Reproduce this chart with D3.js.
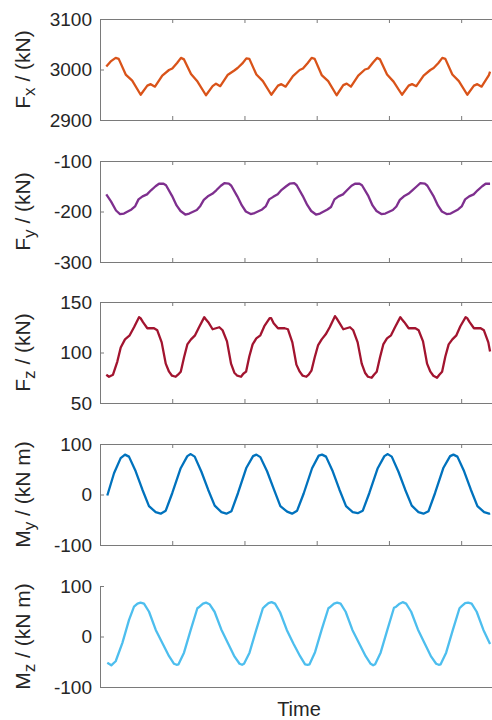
<!DOCTYPE html>
<html>
<head>
<meta charset="utf-8">
<script src="https://cdn.jsdelivr.net/npm/d3@7"></script>
<style>
  body { margin: 0; background: #fff; }
  svg text { font-family: "Liberation Sans", Arial, Helvetica, sans-serif; }
</style>
</head>
<body>
<div id="wrapper"></div>
<script>
// 1. Data (time in s)
const timeTicks = [10, 20, 30, 40, 50]

const fxTicks = [2900, 3000, 3100]
const fxTime = [0.87, 1.48,
  2.17, 2.59, 3.56, 4.46, 5.63, 6.55, 7.02, 7.61, 8.62, 9.55, 10.01, 10.67,
  11.21, 11.63, 12.60, 13.50, 14.67, 15.59, 16.06, 16.65, 17.66, 18.59, 19.05, 19.71,
  20.26, 20.68, 21.65, 22.55, 23.72, 24.64, 25.11, 25.70, 26.71, 27.64, 28.10, 28.76,
  29.30, 29.72, 30.69, 31.59, 32.76, 33.68, 34.15, 34.74, 35.75, 36.68, 37.14, 37.80,
  38.35, 38.77, 39.74, 40.64, 41.81, 42.73, 43.20, 43.79, 44.80, 45.73, 46.19, 46.85,
  47.39, 47.81, 48.78, 49.68, 50.85, 51.77, 52.24, 52.83, 53.84, 54.0]
const fxVal = [3006, 3016,
  3023, 3021, 2990, 2978, 2950, 2968, 2971, 2966, 2988, 2999, 3002, 3013,
  3023, 3020, 2991, 2976, 2949, 2967, 2972, 2967, 2989, 2998, 3003, 3012,
  3022, 3021, 2990, 2977, 2950, 2968, 2971, 2966, 2987, 2999, 3002, 3013,
  3023, 3021, 2989, 2977, 2949, 2969, 2972, 2966, 2988, 3000, 3002, 3014,
  3023, 3020, 2990, 2976, 2950, 2968, 2971, 2967, 2988, 2999, 3003, 3013,
  3023, 3021, 2990, 2977, 2950, 2968, 2971, 2966, 2989, 2996]

const fyTicks = [-300, -200, -100]
const fyTime = [0.87, 1.52, 2.22,
  2.77, 3.32, 4.36, 4.85, 5.33, 5.89, 6.51, 7.06, 7.69, 8.17, 8.80, 9.14, 9.97, 10.60, 11.15,
  11.81, 12.36, 13.40, 13.89, 14.37, 14.93, 15.55, 16.10, 16.73, 17.21, 17.84, 18.18, 19.01, 19.64, 20.19,
  20.86, 21.41, 22.45, 22.94, 23.42, 23.98, 24.60, 25.15, 25.78, 26.26, 26.89, 27.23, 28.06, 28.69, 29.24,
  29.90, 30.45, 31.49, 31.98, 32.46, 33.02, 33.64, 34.19, 34.82, 35.30, 35.93, 36.27, 37.10, 37.73, 38.28,
  38.95, 39.50, 40.54, 41.03, 41.51, 42.07, 42.69, 43.24, 43.87, 44.35, 44.98, 45.32, 46.15, 46.78, 47.33,
  47.99, 48.54, 49.58, 50.07, 50.55, 51.11, 51.73, 52.28, 52.91, 53.39, 54.0]
const fyVal = [-166, -180, -198,
  -205, -204, -196, -190, -176, -170, -166, -158, -150, -145, -145, -148, -169, -188, -199,
  -206, -204, -197, -189, -177, -170, -165, -158, -149, -144, -145, -149, -170, -188, -200,
  -205, -203, -196, -190, -176, -171, -166, -157, -150, -145, -144, -148, -169, -187, -199,
  -206, -204, -196, -191, -176, -170, -166, -158, -149, -145, -145, -148, -168, -188, -199,
  -205, -204, -197, -190, -177, -170, -165, -158, -150, -144, -145, -149, -169, -188, -200,
  -205, -204, -196, -190, -176, -170, -166, -158, -150, -145, -145]

const fzTicks = [50, 100, 150]
const fzTime = [0.87, 1.25, 1.80, 2.40, 2.87, 3.46, 4.11, 4.71,
  5.40, 5.61, 5.95, 6.55, 7.48, 7.93, 8.54, 9.10, 9.56, 9.97, 10.48, 10.80, 11.18, 11.63, 12.09, 12.60, 13.16, 13.71,
  14.44, 14.65, 14.99, 15.59, 16.52, 16.97, 17.58, 18.14, 18.60, 19.01, 19.52, 19.84, 20.22, 20.67, 21.13, 21.64, 22.20, 22.75,
  23.49, 23.70, 24.04, 24.64, 25.57, 26.02, 26.63, 27.19, 27.65, 28.06, 28.57, 28.89, 29.27, 29.72, 30.18, 30.69, 31.25, 31.80,
  32.53, 32.74, 33.08, 33.68, 34.61, 35.06, 35.67, 36.23, 36.69, 37.10, 37.61, 37.93, 38.31, 38.76, 39.22, 39.73, 40.29, 40.84,
  41.58, 41.79, 42.13, 42.73, 43.66, 44.11, 44.72, 45.28, 45.74, 46.15, 46.66, 46.98, 47.36, 47.81, 48.27, 48.78, 49.34, 49.89,
  50.62, 50.83, 51.17, 51.77, 52.70, 53.15, 53.76, 54.0]
const fzVal = [78, 76, 78, 91, 105, 113, 117, 125,
  135, 134, 130, 124, 124, 122, 110, 89, 81, 77, 76, 78, 81, 95, 108, 113, 117, 125,
  135, 133, 130, 123, 125, 122, 111, 89, 80, 77, 76, 79, 81, 96, 108, 114, 117, 126,
  134, 134, 129, 124, 124, 123, 110, 88, 81, 77, 76, 78, 82, 95, 107, 113, 118, 125,
  136, 134, 130, 123, 125, 122, 110, 89, 80, 76, 75, 78, 81, 95, 108, 114, 117, 125,
  135, 133, 130, 124, 124, 122, 111, 89, 81, 77, 75, 78, 81, 96, 108, 113, 117, 126,
  135, 134, 130, 124, 124, 122, 110, 101]

const myTicks = [-100, 0, 100]
const myTime = [1.01, 1.94, 2.86,
  3.46, 4.01, 4.94, 5.86, 6.78, 7.71, 8.40, 9.10, 10.01, 11.17, 12.09,
  12.56, 13.11, 14.04, 14.96, 15.88, 16.81, 17.50, 18.20, 19.11, 20.27, 21.19,
  21.65, 22.20, 23.13, 24.05, 24.97, 25.90, 26.59, 27.29, 28.20, 29.36, 30.28,
  30.74, 31.29, 32.22, 33.14, 34.06, 34.99, 35.68, 36.38, 37.29, 38.45, 39.37,
  39.84, 40.39, 41.32, 42.24, 43.16, 44.09, 44.78, 45.48, 46.39, 47.55, 48.47,
  48.93, 49.48, 50.41, 51.33, 52.25, 53.18, 53.87, 54.0]
const myVal = [-2, 42, 72,
  79, 75, 46, 10, -23, -35, -38, -32, 3, 52, 76,
  80, 75, 45, 10, -22, -35, -38, -33, 3, 53, 76,
  79, 74, 46, 11, -23, -34, -38, -32, 2, 52, 77,
  79, 75, 46, 10, -23, -35, -37, -32, 3, 52, 76,
  80, 75, 45, 10, -22, -35, -38, -33, 3, 53, 76,
  79, 75, 46, 10, -23, -35, -38, -37]

const mzTicks = [-100, 0, 100]
const mzTime = [1.01, 1.56, 2.17, 3.09, 4.02, 4.71, 5.19,
  5.61, 6.09, 6.79, 7.72, 8.63, 9.56, 10.25, 10.60, 10.87, 11.63, 12.56, 13.48, 13.78, 14.26,
  14.68, 15.16, 15.86, 16.79, 17.70, 18.63, 19.32, 19.67, 19.94, 20.70, 21.63, 22.55, 22.85, 23.33,
  23.75, 24.23, 24.93, 25.86, 26.77, 27.70, 28.39, 28.74, 29.01, 29.77, 30.70, 31.62, 31.92, 32.40,
  32.83, 33.31, 34.01, 34.94, 35.85, 36.78, 37.47, 37.82, 38.09, 38.85, 39.78, 40.70, 41.00, 41.48,
  41.90, 42.38, 43.08, 44.01, 44.92, 45.85, 46.54, 46.89, 47.16, 47.92, 48.85, 49.77, 50.07, 50.55,
  50.97, 51.45, 52.15, 53.08, 54.0]
const mzVal = [-52, -57, -49, -13, 33, 59, 65,
  67, 65, 49, 13, -13, -39, -54, -56, -55, -32, 13, 56, 59, 65,
  67, 64, 49, 14, -13, -40, -54, -56, -54, -32, 13, 56, 60, 66,
  68, 65, 48, 13, -14, -39, -55, -56, -55, -31, 14, 56, 59, 65,
  67, 65, 49, 13, -13, -39, -54, -57, -55, -32, 13, 57, 59, 65,
  68, 65, 49, 14, -13, -40, -54, -56, -55, -32, 13, 56, 60, 66,
  67, 65, 49, 13, -15]

const panels = [
  { sym: "F", sub: "x", unit: "/ (kN)", time: fxTime, values: fxVal, ticks: fxTicks, color: "#D95319", box: true },
  { sym: "F", sub: "y", unit: "/ (kN)", time: fyTime, values: fyVal, ticks: fyTicks, color: "#7E2F8E", box: true },
  { sym: "F", sub: "z", unit: "/ (kN)", time: fzTime, values: fzVal, ticks: fzTicks, color: "#A2142F", box: true },
  { sym: "M", sub: "y", unit: "/ (kN m)", time: myTime, values: myVal, ticks: myTicks, color: "#0072BD", box: true },
  { sym: "M", sub: "z", unit: "/ (kN m)", time: mzTime, values: mzVal, ticks: mzTicks, color: "#4DBEEE", box: false },
]

// 2. Dimensions
const dimensions = {
  width: 492,
  height: 720,
  left: 100,
  top: 19,
  panelStep: 141.7,
  panelHeight: 101,
  boundedWidth: 398,
}
const axisColor = "#7a7a7a"
const textColor = "#262626"

// 3. Canvas
const svg = d3
  .select("#wrapper")
  .append("svg")
  .attr("width", dimensions.width)
  .attr("height", dimensions.height)

// 4. Scales
const xScale = d3.scaleLinear().domain([0, 55.1]).range([0, dimensions.boundedWidth])

const styleAxis = (g, size) => {
  g.attr("font-family", null).attr("font-size", size).attr("color", textColor)
  g.selectAll("path, line").attr("stroke", axisColor)
}

// 5. Panels
panels.forEach((p, i) => {
  const top = Math.round(dimensions.top + dimensions.panelStep * i)
  const h = dimensions.panelHeight
  const g = svg.append("g").attr("transform", `translate(${dimensions.left}, ${top})`)

  const yScale = d3.scaleLinear().domain(d3.extent(p.ticks)).range([h, 0])

  g.append("clipPath")
    .attr("id", `clip${i}`)
    .append("rect")
    .attr("width", dimensions.boundedWidth)
    .attr("height", h)

  const line = d3
    .line()
    .x(d => xScale(d[0]))
    .y(d => yScale(d[1]))

  g.append("path")
    .datum(d3.zip(p.time, p.values))
    .attr("clip-path", `url(#clip${i})`)
    .attr("fill", "none")
    .attr("stroke", p.color)
    .attr("stroke-width", 2.3)
    .attr("stroke-linejoin", "round")
    .attr("d", line)

  // axes, ticks point inward
  g.append("g")
    .call(
      d3.axisLeft(yScale)
        .tickValues(p.ticks)
        .tickSize(-4)
        .tickSizeOuter(0)
        .tickPadding(8)
        .tickFormat(d => String(d))
    )
    .call(s => styleAxis(s, 19))

  g.append("g")
    .attr("transform", `translate(0, ${h})`)
    .call(
      d3.axisBottom(xScale)
        .tickValues(p.box ? timeTicks : [])
        .tickSize(-4)
        .tickSizeOuter(0)
        .tickFormat("")
    )
    .call(s => styleAxis(s, 19))

  if (p.box) {
    g.append("g")
      .call(d3.axisTop(xScale).tickValues(timeTicks).tickSize(-4).tickSizeOuter(0).tickFormat(""))
      .call(s => styleAxis(s, 19))
    g.append("g")
      .attr("transform", `translate(${dimensions.boundedWidth}, 0)`)
      .call(d3.axisRight(yScale).tickValues(p.ticks).tickSize(-4).tickSizeOuter(0).tickFormat(""))
      .call(s => styleAxis(s, 19))
  }

  // y label
  const label = svg
    .append("text")
    .attr("transform", `translate(30, ${top + h / 2}) rotate(-90)`)
    .attr("text-anchor", "middle")
    .attr("font-size", 21)
    .attr("fill", textColor)
  label.append("tspan").text(p.sym)
  label.append("tspan").attr("font-size", 17).attr("dy", 5).text(p.sub)
  label.append("tspan").attr("dy", -5).text(" " + p.unit)
})

// 6. x label
svg
  .append("text")
  .attr("x", dimensions.left + dimensions.boundedWidth / 2)
  .attr("y", 716)
  .attr("text-anchor", "middle")
  .attr("font-size", 20)
  .attr("fill", textColor)
  .text("Time")
</script>
</body>
</html>
